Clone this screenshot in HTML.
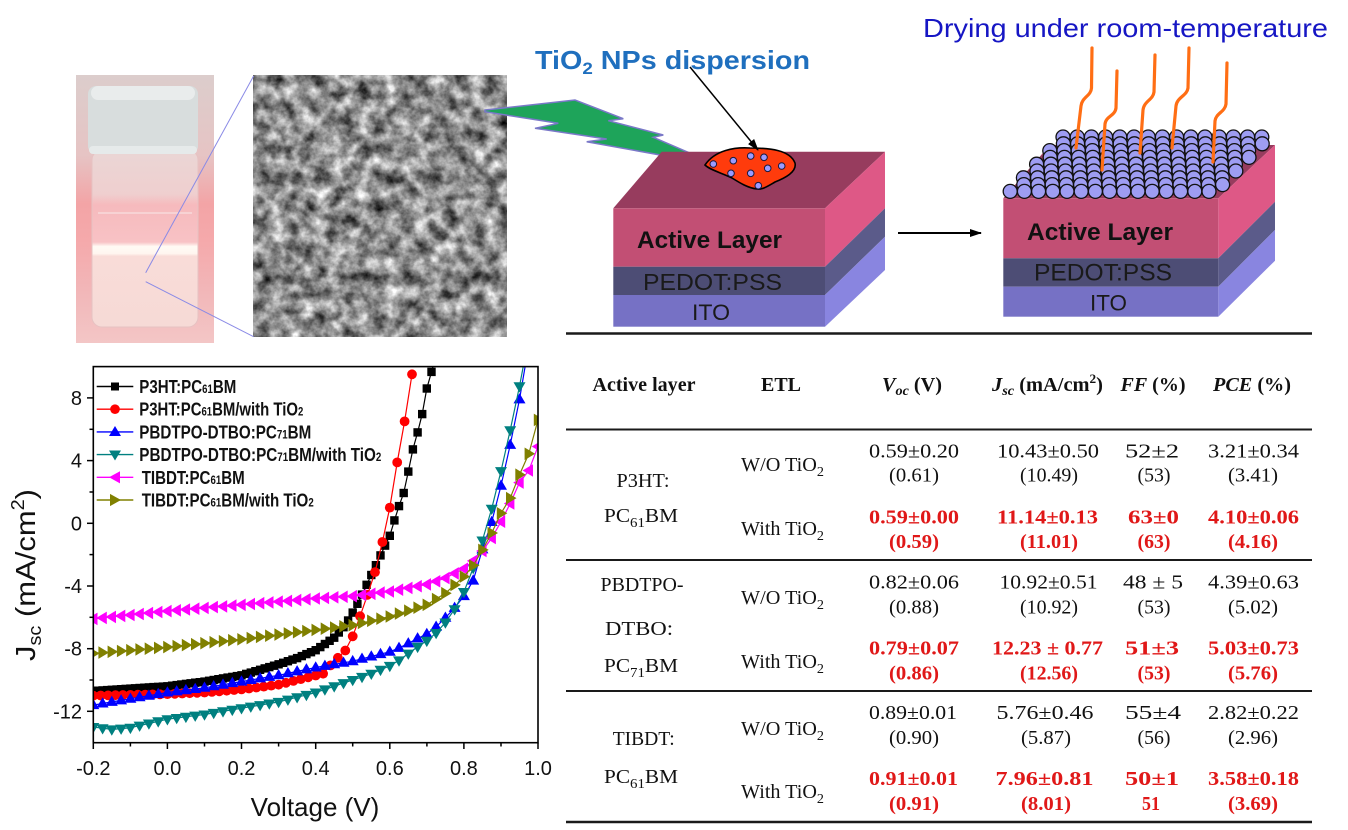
<!DOCTYPE html>
<html><head><meta charset="utf-8">
<style>
html,body{margin:0;padding:0;background:#fff;}
svg{display:block;}
.ar{font-family:"Liberation Sans",Arial,sans-serif;}
.tm{font-family:"Liberation Serif","Times New Roman",serif;}
</style></head><body>
<svg id="s" width="1348" height="830" viewBox="0 0 1348 830" xmlns="http://www.w3.org/2000/svg">
<defs>
  <linearGradient id="vbg" x1="0" y1="0" x2="0" y2="1">
    <stop offset="0" stop-color="#dccdcc"/>
    <stop offset="0.3" stop-color="#e6c4c4"/>
    <stop offset="0.48" stop-color="#f3a4a6"/>
    <stop offset="0.62" stop-color="#f5a9ab"/>
    <stop offset="0.8" stop-color="#f2b6b8"/>
    <stop offset="1" stop-color="#f3c6c6"/>
  </linearGradient>
  <linearGradient id="vglass" x1="0" y1="0" x2="0" y2="1">
    <stop offset="0" stop-color="#ead6d5"/>
    <stop offset="0.25" stop-color="#efcfcf"/>
    <stop offset="0.31" stop-color="#f6babd"/>
    <stop offset="0.52" stop-color="#f8c2c5"/>
    <stop offset="0.545" stop-color="#fffaf4"/>
    <stop offset="0.585" stop-color="#fff6f0"/>
    <stop offset="0.6" stop-color="#f9dcd8"/>
    <stop offset="1" stop-color="#f6dad6"/>
  </linearGradient>
  <filter id="temf" filterUnits="userSpaceOnUse" x="253" y="75" width="254" height="262" color-interpolation-filters="sRGB">
    <feTurbulence type="fractalNoise" baseFrequency="0.07" numOctaves="4" seed="7"/>
    <feColorMatrix type="matrix" values="1.25 0 0 0 -0.07  1.25 0 0 0 -0.07  1.25 0 0 0 -0.07  0 0 0 0 1"/>
  </filter>
  <marker id="ah" markerWidth="12" markerHeight="10" refX="11" refY="5" orient="auto" markerUnits="userSpaceOnUse">
    <path d="M0,1 L12,5 L0,9 Z" fill="#000"/>
  </marker>
  <clipPath id="plotclip"><rect x="93.3" y="366.6" width="444.7" height="376.1"/></clipPath>
</defs>

<!-- Vial photo -->
<rect x="76" y="75" width="138" height="268" fill="url(#vbg)"/>
<rect x="92" y="150" width="106" height="177" rx="10" fill="url(#vglass)"/>
<rect x="92" y="150" width="106" height="177" rx="10" fill="none" stroke="#e6c2c2" stroke-width="1"/>
<line x1="98" y1="213" x2="192" y2="213" stroke="#f8e0e0" stroke-width="1.2"/>
<rect x="88" y="86" width="110" height="68" rx="8" fill="#d8dddd"/>
<rect x="91" y="86" width="104" height="14" rx="7" fill="#e9ecec"/>
<rect x="89" y="146" width="108" height="8" rx="4" fill="#e6eaea"/>

<!-- TEM -->
<rect x="253" y="75" width="254" height="262" fill="#8c8c8c"/>
<rect x="253" y="75" width="254" height="262" filter="url(#temf)"/>

<!-- zoom lines -->
<line x1="253.6" y1="76" x2="145.7" y2="272.7" stroke="#8a8ae6" stroke-width="1"/>
<line x1="145.7" y1="281.7" x2="253.6" y2="336.7" stroke="#8a8ae6" stroke-width="1"/>

<!-- Lightning bolt -->
<polygon points="485,110 575,100 623.3,118.7 608.3,120.7 663.3,135 653.3,137.3 710,161.7 710,164 586.7,141.7 606.7,139 535,128.3 558.3,123.3 485,111.7" fill="#1ea45a" stroke="#7a78c8" stroke-width="1.5" stroke-linejoin="miter"/>

<!-- Titles -->
<text class="ar" x="535" y="69" font-size="26" font-weight="bold" fill="#1f6fbe" textLength="275" lengthAdjust="spacingAndGlyphs">TiO<tspan font-size="17" dy="5">2</tspan><tspan dy="-5"> NPs dispersion</tspan></text>
<text class="ar" x="923" y="37" font-size="26" fill="#1616c4" textLength="405" lengthAdjust="spacingAndGlyphs">Drying under room-temperature</text>

<!-- Left device -->
<polygon points="613.3,208.3 661.7,151.7 885,151.7 825,208.3" fill="#973c5e"/>
<polygon points="825,208.3 885,151.7 885,208.3 825,266.7" fill="#de5886"/>
<polygon points="825,266.7 885,208.3 885,236.7 825,295" fill="#5b5b8a"/>
<polygon points="825,295 885,236.7 885,270 825,326.7" fill="#8985e0"/>
<rect x="613.3" y="208.3" width="211.7" height="58.4" fill="#c24f74"/>
<rect x="613.3" y="266.7" width="211.7" height="28.3" fill="#4d4d75"/>
<rect x="613.3" y="295" width="211.7" height="31.7" fill="#7671c5"/>
<text class="ar" x="637" y="248" font-size="24" font-weight="bold" fill="#111" textLength="145" lengthAdjust="spacingAndGlyphs">Active Layer</text>
<text class="ar" x="643" y="290" font-size="23" fill="#1a1a1a" textLength="139" lengthAdjust="spacingAndGlyphs">PEDOT:PSS</text>
<text class="ar" x="692" y="320" font-size="22" fill="#1a1a1a" textLength="38" lengthAdjust="spacingAndGlyphs">ITO</text>

<!-- Drop -->
<path d="M705,165 C715,150 735,147 750,148 C770,148 790,150 795,163 C797,172 785,178 775,182 C768,186 762,190 757,189 C748,188 740,183 732,178 C722,173 710,170 705,165 Z" fill="#ff3b0c" stroke="#000" stroke-width="1.6"/>
<g fill="#9b9bff" stroke="#1a1a40" stroke-width="1">
  <circle cx="713.3" cy="164" r="3.3"/><circle cx="733.3" cy="160.7" r="3.3"/><circle cx="750.7" cy="156" r="3.3"/>
  <circle cx="764" cy="157.3" r="3.3"/><circle cx="781.7" cy="166" r="3.3"/><circle cx="731" cy="173.3" r="3.3"/>
  <circle cx="750.7" cy="173.3" r="3.3"/><circle cx="767.7" cy="168.3" r="3.3"/><circle cx="758.3" cy="185.7" r="3.3"/>
</g>
<line x1="690" y1="67" x2="758" y2="150" stroke="#000" stroke-width="1.5" marker-end="url(#ah)"/>

<!-- device arrow -->
<line x1="898" y1="233" x2="981" y2="233" stroke="#000" stroke-width="2" marker-end="url(#ah)"/>

<!-- Right device -->
<polygon points="1003.3,198.3 1050,145 1275,145 1218.3,198.3" fill="#973c5e"/>
<polygon points="1218.3,198.3 1275,145 1275,201.7 1218.3,258.3" fill="#de5886"/>
<polygon points="1218.3,258.3 1275,201.7 1275,230 1218.3,286.7" fill="#5b5b8a"/>
<polygon points="1218.3,286.7 1275,230 1275,260.7 1218.3,316.7" fill="#8985e0"/>
<rect x="1003.3" y="198.3" width="215" height="60" fill="#c24f74"/>
<rect x="1003.3" y="258.3" width="215" height="28.4" fill="#4d4d75"/>
<rect x="1003.3" y="286.7" width="215" height="30" fill="#7671c5"/>
<text class="ar" x="1027" y="240" font-size="24" font-weight="bold" fill="#111" textLength="146" lengthAdjust="spacingAndGlyphs">Active Layer</text>
<text class="ar" x="1034" y="280.7" font-size="24" fill="#1a1a1a" textLength="138" lengthAdjust="spacingAndGlyphs">PEDOT:PSS</text>
<text class="ar" x="1090" y="310.7" font-size="22" fill="#1a1a1a" textLength="37" lengthAdjust="spacingAndGlyphs">ITO</text>
<g id="spheres"></g>
<g fill="none" stroke="#ff6e14" stroke-width="3.2" stroke-linecap="round">
  <path d="M1092,48 L1091.5,88 C1091,96 1082,97 1081,106 L1076,148"/>
  <path d="M1117,71 L1116,108 C1115,116 1106,116 1105,124 L1102,170"/>
  <path d="M1155,55 L1154,92 C1153,100 1144,101 1143,110 L1140,153"/>
  <path d="M1189,48 L1188,88 C1187,96 1177,97 1176,106 L1172,148"/>
  <path d="M1227,63 L1226,104 C1225,112 1216,113 1215,121 L1213,162"/>
</g>

<!-- ================= CHART ================= -->
<g id="curves" clip-path="url(#plotclip)"></g>
<rect x="93.3" y="366.6" width="444.7" height="376.1" fill="none" stroke="#000" stroke-width="1.6"/>
<g stroke="#000" stroke-width="1.5">
  <line x1="87" y1="711.3" x2="93.3" y2="711.3"/><line x1="87" y1="648.7" x2="93.3" y2="648.7"/>
  <line x1="87" y1="586" x2="93.3" y2="586"/><line x1="87" y1="523.3" x2="93.3" y2="523.3"/>
  <line x1="87" y1="460.6" x2="93.3" y2="460.6"/><line x1="87" y1="397.9" x2="93.3" y2="397.9"/>
  <line x1="89.5" y1="680" x2="93.3" y2="680"/><line x1="89.5" y1="617.3" x2="93.3" y2="617.3"/>
  <line x1="89.5" y1="554.6" x2="93.3" y2="554.6"/><line x1="89.5" y1="492" x2="93.3" y2="492"/>
  <line x1="89.5" y1="429.3" x2="93.3" y2="429.3"/>
  <line x1="93.3" y1="742.7" x2="93.3" y2="749"/><line x1="167.4" y1="742.7" x2="167.4" y2="749"/>
  <line x1="241.5" y1="742.7" x2="241.5" y2="749"/><line x1="315.7" y1="742.7" x2="315.7" y2="749"/>
  <line x1="389.8" y1="742.7" x2="389.8" y2="749"/><line x1="463.9" y1="742.7" x2="463.9" y2="749"/>
  <line x1="538" y1="742.7" x2="538" y2="749"/>
  <line x1="130.4" y1="742.7" x2="130.4" y2="746.5"/><line x1="204.5" y1="742.7" x2="204.5" y2="746.5"/>
  <line x1="278.6" y1="742.7" x2="278.6" y2="746.5"/><line x1="352.7" y1="742.7" x2="352.7" y2="746.5"/>
  <line x1="426.9" y1="742.7" x2="426.9" y2="746.5"/><line x1="501" y1="742.7" x2="501" y2="746.5"/>
</g>
<g class="ar" font-size="20" fill="#111" text-anchor="end">
  <text x="82" y="405">8</text><text x="82" y="467.6">4</text><text x="82" y="530.3">0</text>
  <text x="82" y="593">-4</text><text x="82" y="655.7">-8</text><text x="82" y="718.3">-12</text>
</g>
<g class="ar" font-size="20" fill="#111" text-anchor="middle">
  <text x="93.3" y="775">-0.2</text><text x="167.4" y="775">0.0</text><text x="241.5" y="775">0.2</text>
  <text x="315.7" y="775">0.4</text><text x="389.8" y="775">0.6</text><text x="463.9" y="775">0.8</text>
  <text x="538" y="775">1.0</text>
</g>
<text class="ar" x="315" y="816" font-size="26" fill="#111" text-anchor="middle">Voltage (V)</text>
<text class="ar" transform="translate(35,575) rotate(-90)" font-size="28" fill="#111" text-anchor="middle" textLength="172" lengthAdjust="spacingAndGlyphs">J<tspan font-size="18" dy="6">sc</tspan><tspan dy="-6"> (mA/cm</tspan><tspan font-size="18" dy="-11">2</tspan><tspan dy="11">)</tspan></text>

<!-- Legend -->
<g id="legend">
  <g stroke-width="1.4">
    <line x1="96.7" y1="386.5" x2="133.3" y2="386.5" stroke="#000"/>
    <line x1="96.7" y1="409.2" x2="133.3" y2="409.2" stroke="#ff0000"/>
    <line x1="96.7" y1="431.9" x2="133.3" y2="431.9" stroke="#0000ff"/>
    <line x1="96.7" y1="454.6" x2="133.3" y2="454.6" stroke="#008080"/>
    <line x1="96.7" y1="477.3" x2="133.3" y2="477.3" stroke="#ff00ff"/>
    <line x1="96.7" y1="500" x2="133.3" y2="500" stroke="#808000"/>
  </g>
  <rect x="111" y="382.5" width="8" height="8" fill="#000"/>
  <circle cx="115" cy="409.2" r="4.8" fill="#ff0000"/>
  <polygon points="115,426 121,436 109,436" fill="#0000ff"/>
  <polygon points="115,460.5 121,450.5 109,450.5" fill="#008080"/>
  <polygon points="109,477.3 120,471.2 120,483.4" fill="#ff00ff"/>
  <polygon points="121,500 110,493.9 110,506.1" fill="#808000"/>
  <g class="ar" font-size="18" font-weight="bold" fill="#111">
    <text x="139.3" y="393" textLength="97" lengthAdjust="spacingAndGlyphs">P3HT:PC<tspan font-size="11.5">61</tspan>BM</text>
    <text x="139.3" y="415.7" textLength="164" lengthAdjust="spacingAndGlyphs">P3HT:PC<tspan font-size="11.5">61</tspan>BM/with TiO<tspan font-size="11.5">2</tspan></text>
    <text x="139.3" y="438.4" textLength="172" lengthAdjust="spacingAndGlyphs">PBDTPO-DTBO:PC<tspan font-size="11.5">71</tspan>BM</text>
    <text x="139.3" y="461.1" textLength="242" lengthAdjust="spacingAndGlyphs">PBDTPO-DTBO:PC<tspan font-size="11.5">71</tspan>BM/with TiO<tspan font-size="11.5">2</tspan></text>
    <text x="141.7" y="483.8" textLength="103" lengthAdjust="spacingAndGlyphs">TIBDT:PC<tspan font-size="11.5">61</tspan>BM</text>
    <text x="141.7" y="506.5" textLength="172" lengthAdjust="spacingAndGlyphs">TIBDT:PC<tspan font-size="11.5">61</tspan>BM/with TiO<tspan font-size="11.5">2</tspan></text>
  </g>
</g>

<!-- ================= TABLE ================= -->
<g stroke="#1a1a1a">
  <line x1="566" y1="333.5" x2="1312" y2="333.5" stroke-width="2.6"/>
  <line x1="566" y1="429.5" x2="1312" y2="429.5" stroke-width="2"/>
  <line x1="566" y1="560" x2="1312" y2="560" stroke-width="2"/>
  <line x1="566" y1="691" x2="1312" y2="691" stroke-width="2"/>
  <line x1="566" y1="822" x2="1312" y2="822" stroke-width="2.6"/>
</g>
<g class="tm" font-size="20" font-weight="bold" fill="#111" text-anchor="middle">
  <text x="644" y="391" textLength="103" lengthAdjust="spacingAndGlyphs">Active layer</text>
  <text x="781" y="391" textLength="40" lengthAdjust="spacingAndGlyphs">ETL</text>
  <text x="912" y="391" textLength="60" lengthAdjust="spacingAndGlyphs"><tspan font-style="italic">V</tspan><tspan font-style="italic" font-size="14" dy="4">oc</tspan><tspan dy="-4"> (V)</tspan></text>
  <text x="1047.5" y="391" textLength="111" lengthAdjust="spacingAndGlyphs"><tspan font-style="italic">J</tspan><tspan font-style="italic" font-size="14" dy="4">sc</tspan><tspan dy="-4"> (mA/cm</tspan><tspan font-size="13" dy="-8">2</tspan><tspan dy="8">)</tspan></text>
  <text x="1153" y="391" textLength="65" lengthAdjust="spacingAndGlyphs"><tspan font-style="italic">FF</tspan> (%)</text>
  <text x="1252" y="391" textLength="78" lengthAdjust="spacingAndGlyphs"><tspan font-style="italic">PCE</tspan> (%)</text>
</g>
<g class="tm" font-size="20" fill="#111" text-anchor="middle">
  <text x="643" y="487" textLength="53" lengthAdjust="spacingAndGlyphs">P3HT:</text>
  <text x="641" y="522" textLength="74" lengthAdjust="spacingAndGlyphs">PC<tspan font-size="14" dy="5">61</tspan><tspan dy="-5">BM</tspan></text>
  <text x="642" y="591" textLength="83" lengthAdjust="spacingAndGlyphs">PBDTPO-</text>
  <text x="639" y="635" textLength="68" lengthAdjust="spacingAndGlyphs">DTBO:</text>
  <text x="641" y="672" textLength="74" lengthAdjust="spacingAndGlyphs">PC<tspan font-size="14" dy="5">71</tspan><tspan dy="-5">BM</tspan></text>
  <text x="643.7" y="745" textLength="62" lengthAdjust="spacingAndGlyphs">TIBDT:</text>
  <text x="641" y="783" textLength="74" lengthAdjust="spacingAndGlyphs">PC<tspan font-size="14" dy="5">61</tspan><tspan dy="-5">BM</tspan></text>

  <text x="782.5" y="471" textLength="83" lengthAdjust="spacingAndGlyphs">W/O TiO<tspan font-size="14" dy="5">2</tspan></text>
  <text x="782.5" y="535" textLength="83" lengthAdjust="spacingAndGlyphs">With TiO<tspan font-size="14" dy="5">2</tspan></text>
  <text x="782.5" y="604" textLength="83" lengthAdjust="spacingAndGlyphs">W/O TiO<tspan font-size="14" dy="5">2</tspan></text>
  <text x="782.5" y="668" textLength="83" lengthAdjust="spacingAndGlyphs">With TiO<tspan font-size="14" dy="5">2</tspan></text>
  <text x="782.5" y="735" textLength="83" lengthAdjust="spacingAndGlyphs">W/O TiO<tspan font-size="14" dy="5">2</tspan></text>
  <text x="782.5" y="798" textLength="83" lengthAdjust="spacingAndGlyphs">With TiO<tspan font-size="14" dy="5">2</tspan></text>

  <text x="914" y="457.5" textLength="90" lengthAdjust="spacingAndGlyphs">0.59±0.20</text>
  <text x="914" y="481.5" textLength="50" lengthAdjust="spacingAndGlyphs">(0.61)</text>
  <text x="1048" y="457.5" textLength="102" lengthAdjust="spacingAndGlyphs">10.43±0.50</text>
  <text x="1049" y="481.5" textLength="58" lengthAdjust="spacingAndGlyphs">(10.49)</text>
  <text x="1152" y="457.5" textLength="54" lengthAdjust="spacingAndGlyphs">52±2</text>
  <text x="1154" y="481.5" textLength="33" lengthAdjust="spacingAndGlyphs">(53)</text>
  <text x="1253.5" y="457.5" textLength="91" lengthAdjust="spacingAndGlyphs">3.21±0.34</text>
  <text x="1253" y="481.5" textLength="50" lengthAdjust="spacingAndGlyphs">(3.41)</text>

  <text x="914" y="588.5" textLength="90" lengthAdjust="spacingAndGlyphs">0.82±0.06</text>
  <text x="914" y="613.5" textLength="50" lengthAdjust="spacingAndGlyphs">(0.88)</text>
  <text x="1048.5" y="588.5" textLength="98" lengthAdjust="spacingAndGlyphs">10.92±0.51</text>
  <text x="1049" y="613.5" textLength="58" lengthAdjust="spacingAndGlyphs">(10.92)</text>
  <text x="1153" y="588.5" textLength="60" lengthAdjust="spacingAndGlyphs">48 ± 5</text>
  <text x="1154" y="613.5" textLength="33" lengthAdjust="spacingAndGlyphs">(53)</text>
  <text x="1253.5" y="588.5" textLength="91" lengthAdjust="spacingAndGlyphs">4.39±0.63</text>
  <text x="1253" y="613.5" textLength="50" lengthAdjust="spacingAndGlyphs">(5.02)</text>

  <text x="913" y="719" textLength="88" lengthAdjust="spacingAndGlyphs">0.89±0.01</text>
  <text x="914" y="744" textLength="50" lengthAdjust="spacingAndGlyphs">(0.90)</text>
  <text x="1045" y="719" textLength="97" lengthAdjust="spacingAndGlyphs">5.76±0.46</text>
  <text x="1046" y="744" textLength="50" lengthAdjust="spacingAndGlyphs">(5.87)</text>
  <text x="1153" y="719" textLength="56" lengthAdjust="spacingAndGlyphs">55±4</text>
  <text x="1154" y="744" textLength="33" lengthAdjust="spacingAndGlyphs">(56)</text>
  <text x="1253.5" y="719" textLength="91" lengthAdjust="spacingAndGlyphs">2.82±0.22</text>
  <text x="1253" y="744" textLength="50" lengthAdjust="spacingAndGlyphs">(2.96)</text>
</g>
<g class="tm" font-size="20" font-weight="bold" fill="#e01818" text-anchor="middle">
  <text x="914" y="523.5" textLength="90" lengthAdjust="spacingAndGlyphs">0.59±0.00</text>
  <text x="914" y="548" textLength="50" lengthAdjust="spacingAndGlyphs">(0.59)</text>
  <text x="1047.5" y="523.5" textLength="101" lengthAdjust="spacingAndGlyphs">11.14±0.13</text>
  <text x="1049" y="548" textLength="58" lengthAdjust="spacingAndGlyphs">(11.01)</text>
  <text x="1153.5" y="523.5" textLength="51" lengthAdjust="spacingAndGlyphs">63±0</text>
  <text x="1154" y="548" textLength="33" lengthAdjust="spacingAndGlyphs">(63)</text>
  <text x="1253.5" y="523.5" textLength="91" lengthAdjust="spacingAndGlyphs">4.10±0.06</text>
  <text x="1253" y="548" textLength="50" lengthAdjust="spacingAndGlyphs">(4.16)</text>

  <text x="914" y="654.5" textLength="90" lengthAdjust="spacingAndGlyphs">0.79±0.07</text>
  <text x="914" y="679.5" textLength="50" lengthAdjust="spacingAndGlyphs">(0.86)</text>
  <text x="1047.5" y="654.5" textLength="111" lengthAdjust="spacingAndGlyphs">12.23 ± 0.77</text>
  <text x="1049" y="679.5" textLength="58" lengthAdjust="spacingAndGlyphs">(12.56)</text>
  <text x="1152" y="654.5" textLength="54" lengthAdjust="spacingAndGlyphs">51±3</text>
  <text x="1154" y="679.5" textLength="33" lengthAdjust="spacingAndGlyphs">(53)</text>
  <text x="1253.5" y="654.5" textLength="91" lengthAdjust="spacingAndGlyphs">5.03±0.73</text>
  <text x="1253" y="679.5" textLength="50" lengthAdjust="spacingAndGlyphs">(5.76)</text>

  <text x="913.5" y="785" textLength="89" lengthAdjust="spacingAndGlyphs">0.91±0.01</text>
  <text x="914" y="810" textLength="50" lengthAdjust="spacingAndGlyphs">(0.91)</text>
  <text x="1044.5" y="785" textLength="98" lengthAdjust="spacingAndGlyphs">7.96±0.81</text>
  <text x="1046" y="810" textLength="50" lengthAdjust="spacingAndGlyphs">(8.01)</text>
  <text x="1152" y="785" textLength="54" lengthAdjust="spacingAndGlyphs">50±1</text>
  <text x="1151" y="810" textLength="18" lengthAdjust="spacingAndGlyphs">51</text>
  <text x="1253.5" y="785" textLength="91" lengthAdjust="spacingAndGlyphs">3.58±0.18</text>
  <text x="1253" y="810" textLength="50" lengthAdjust="spacingAndGlyphs">(3.69)</text>
</g>
</svg>
<script>
(function(){
var NS='http://www.w3.org/2000/svg';
function el(tag,attrs,parent){var e=document.createElementNS(NS,tag);for(var k in attrs)e.setAttribute(k,attrs[k]);parent.appendChild(e);return e;}
var sg=document.getElementById('spheres');
for(var i=0;i<9;i++){
  var y=137+i*6.8;
  var x0=1063-i*6.6+(i%2?7:0);
  var x1=1272-i*6.6;
  for(var x=x0;x<=x1+0.1;x+=14.2){
    el('circle',{cx:x.toFixed(1),cy:y.toFixed(1),r:7,fill:'#9e9df2',stroke:'#111','stroke-width':1.3},sg);
  }
}
function X(v){return 93.3+(v+0.2)*370.6;}
function Y(j){return 523.3-j*15.67;}
function interp(p,v){for(var i=0;i<p.length-1;i++){if(v<=p[i+1][0]+1e-9){var a=p[i],b=p[i+1];return a[1]+(b[1]-a[1])*(v-a[0])/(b[0]-a[0]);}}return p[p.length-1][1];}
var series=[
 {c:'#000000',m:'sq',step:0.0125,p:[[-0.2,-10.7],[0,-10.4],[0.1,-10.1],[0.2,-9.7],[0.3,-9.0],[0.35,-8.6],[0.4,-8.1],[0.45,-7.3],[0.48,-6.5],[0.5,-5.7],[0.52,-4.8],[0.54,-3.8],[0.56,-2.8],[0.58,-1.8],[0.6,-0.8],[0.61,0],[0.625,1.1],[0.64,2.1],[0.65,3.3],[0.66,4.5],[0.675,5.8],[0.69,7.2],[0.70,8.6],[0.72,10.3]]},
 {c:'#ff0000',m:'ci',step:0.02,p:[[-0.2,-11.0],[0,-10.9],[0.1,-10.8],[0.2,-10.6],[0.3,-10.3],[0.35,-10.0],[0.42,-9.6],[0.45,-8.8],[0.478,-8.2],[0.497,-7.4],[0.516,-6.2],[0.557,-3.4],[0.579,-1.3],[0.6,1.0],[0.617,3.5],[0.638,6.2],[0.658,9.2],[0.667,10.6]]},
 {c:'#0000ff',m:'up',step:0.025,p:[[-0.2,-11.6],[-0.1,-11.2],[0,-10.8],[0.1,-10.5],[0.2,-10.1],[0.3,-9.7],[0.4,-9.2],[0.5,-8.8],[0.6,-8.2],[0.64,-7.8],[0.67,-7.4],[0.706,-7.0],[0.73,-6.5],[0.764,-5.7],[0.793,-4.9],[0.823,-3.8],[0.84,-2.6],[0.855,-1.2],[0.88,0.4],[0.908,3.2],[0.942,6.8],[0.968,10.4]]},
 {c:'#008080',m:'dn',step:0.025,p:[[-0.2,-13.0],[-0.15,-13.15],[-0.1,-13.05],[0,-12.5],[0.1,-12.2],[0.2,-11.8],[0.3,-11.4],[0.4,-10.8],[0.5,-10.0],[0.55,-9.6],[0.61,-9.0],[0.64,-8.5],[0.667,-8.0],[0.7,-7.5],[0.73,-6.9],[0.76,-6.05],[0.793,-4.8],[0.82,-3.2],[0.85,-1.1],[0.882,1.5],[0.91,4.35],[0.942,7.75],[0.965,10.6]]},
 {c:'#ff00ff',m:'lt',step:0.025,p:[[-0.2,-6.1],[0,-5.6],[0.2,-5.2],[0.4,-4.8],[0.5,-4.65],[0.6,-4.35],[0.7,-3.9],[0.75,-3.5],[0.8,-2.9],[0.83,-2.3],[0.86,-1.5],[0.88,-0.75],[0.9,0.1],[0.93,1.5],[0.95,2.6],[0.976,3.4],[1.0,4.9]]},
 {c:'#808000',m:'rt',step:0.025,p:[[-0.2,-8.3],[0,-7.9],[0.2,-7.4],[0.4,-6.8],[0.5,-6.5],[0.6,-5.95],[0.7,-5.2],[0.75,-4.46],[0.8,-3.4],[0.83,-2.55],[0.86,-1.27],[0.88,-0.4],[0.9,0.64],[0.93,1.8],[0.95,3.1],[0.98,4.7],[1.0,6.6]]}
];
function pts(a){return a.map(function(q){return q[0].toFixed(1)+','+q[1].toFixed(1);}).join(' ');}
function marker(m,x,y,c,g){
  if(m==='sq'){el('rect',{x:(x-4.2).toFixed(1),y:(y-4.2).toFixed(1),width:8.4,height:8.4,fill:c},g);}
  else if(m==='ci'){el('circle',{cx:x.toFixed(1),cy:y.toFixed(1),r:4.9,fill:c},g);}
  else if(m==='up'){el('polygon',{points:pts([[x,y-6.3],[x+6,y+4],[x-6,y+4]]),fill:c},g);}
  else if(m==='dn'){el('polygon',{points:pts([[x,y+6.3],[x+6,y-4],[x-6,y-4]]),fill:c},g);}
  else if(m==='lt'){el('polygon',{points:pts([[x-6.3,y],[x+4.2,y-6.3],[x+4.2,y+6.3]]),fill:c},g);}
  else if(m==='rt'){el('polygon',{points:pts([[x+6.3,y],[x-4.2,y-6.3],[x-4.2,y+6.3]]),fill:c},g);}
}
var cg=document.getElementById('curves');
series.forEach(function(s){
  var p=s.p,vmax=p[p.length-1][0];
  var n=Math.round((vmax+0.2)/s.step);
  var sm=[];
  for(var k=0;k<=n;k++){var v=-0.2+k*s.step;if(v>vmax)v=vmax;sm.push([X(v),Y(interp(p,v))]);}
  el('polyline',{points:pts(sm),fill:'none',stroke:s.c,'stroke-width':1.2},cg);
  sm.forEach(function(q){marker(s.m,q[0],q[1],s.c,cg);});
});
})();
</script>
</body></html>
